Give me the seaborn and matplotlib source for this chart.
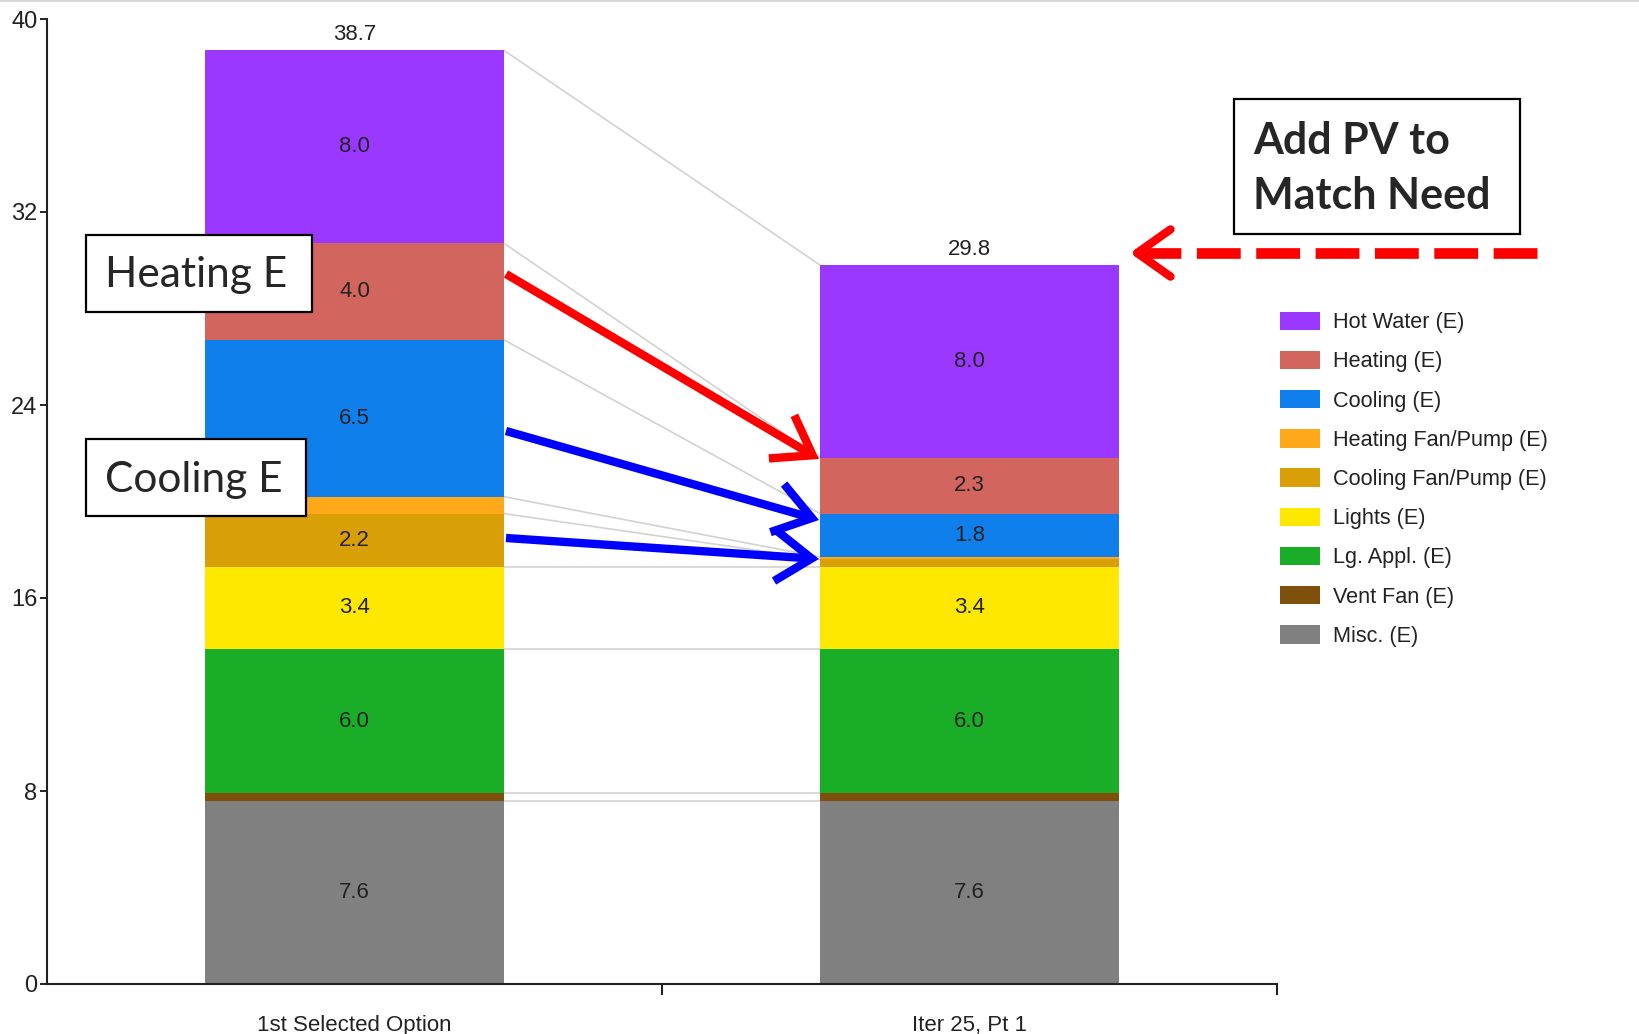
import numpy as np
import matplotlib
matplotlib.use("Agg")
import matplotlib.pyplot as plt
import seaborn as sns
from matplotlib.patches import FancyArrowPatch, Rectangle, Patch
from matplotlib.lines import Line2D

# ---------------- data ----------------
categories = ["1st Selected Option", "Iter 25, Pt 1"]
end_uses = ["Misc. (E)", "Vent Fan (E)", "Lg. Appl. (E)", "Lights (E)",
            "Cooling Fan/Pump (E)", "Heating Fan/Pump (E)", "Cooling (E)",
            "Heating (E)", "Hot Water (E)"]          # bottom -> top
misc = [7.6, 7.6]
vent_fan = [0.3, 0.3]
lg_appl = [6.0, 6.0]
lights = [3.4, 3.4]
cooling_fan = [2.2, 0.3]
heating_fan = [0.7, 0.1]
cooling = [6.5, 1.8]
heating = [4.0, 2.3]
hot_water = [8.0, 8.0]
colors = ["#808080", "#7f500c", "#1aae28", "#ffe800", "#d8a006",
          "#ffa81a", "#0f7feb", "#d3655f", "#9b38ff"]
yticks = [0, 8, 16, 24, 32, 40]

values = np.array([misc, vent_fan, lg_appl, lights, cooling_fan,
                   heating_fan, cooling, heating, hot_water])
cum = np.cumsum(values, axis=0)
bottoms = cum - values
totals = cum[-1]

# ---------------- figure ----------------
sns.set_style("white")
NARROW = ["Liberation Sans Narrow", "Liberation Sans", "DejaVu Sans"]
plt.rcParams["font.family"] = NARROW

W, H = 1639, 1034
fig = plt.figure(figsize=(W / 100, H / 100), dpi=100)
ax = fig.add_axes([47 / W, (H - 984) / H, (1277 - 47) / W, (984 - 19) / H])

BW = 0.486
# draw cumulative bars from top layer downward (each covers the one below)
for i in range(len(end_uses) - 1, -1, -1):
    sns.barplot(x=categories, y=cum[i], order=categories, color=colors[i],
                saturation=1, width=BW, linewidth=0, ax=ax, zorder=2)

# connector lines between bar boundaries
for k in range(len(end_uses)):
    ax.plot([BW / 2, 1 - BW / 2], [cum[k, 0], cum[k, 1]],
            color="#d2d2d2", lw=1.2, zorder=1)

# segment value labels
for i in range(len(end_uses)):
    for j in range(len(categories)):
        v = values[i, j]
        if v >= 1.0:
            ax.text(j, bottoms[i, j] + v / 2, f"{v:.1f}", ha="center",
                    va="center", fontsize=16, color="#222222", zorder=5)
for j in range(len(categories)):
    ax.annotate(f"{totals[j]:.1f}", (j, totals[j]), xytext=(0, 4),
                textcoords="offset points", ha="center", va="bottom",
                fontsize=16, color="#222222")

ax.set_xlim(-0.5, 1.5)
ax.set_ylim(0, 40)
ax.set_yticks(yticks)
ax.set_yticklabels([str(t) for t in yticks], fontsize=17, color="#222222")
ax.set_xticks([0, 1])
ax.set_xticklabels(categories, fontsize=16, color="#222222")
ax.set_xticks([0.5, 1.5], minor=True)
ax.tick_params(axis="x", which="major", length=0, pad=22)
ax.tick_params(axis="x", which="minor", bottom=True, length=8, width=1.5,
               color="#222222", direction="out")
ax.tick_params(axis="y", length=5, width=1.4, color="#222222", pad=2, left=True)
ax.set_xlabel("")
ax.set_ylabel("")
sns.despine(ax=ax)
for s in ["left", "bottom"]:
    ax.spines[s].set_linewidth(1.5)
    ax.spines[s].set_color("#222222")

# legend
handles = [Patch(facecolor=colors[i], edgecolor="none", label=end_uses[i])
           for i in range(len(end_uses) - 1, -1, -1)]
fig.legend(handles=handles, loc="upper left",
           bbox_to_anchor=(1260 / W, (H - 292) / H), frameon=False,
           fontsize=15.6, handlelength=1.85, handleheight=0.93,
           labelspacing=0.81, handletextpad=0.62, labelcolor="#222222")

# ---------------- annotations (figure pixel coordinates) ----------------
def fx(x):
    return x / W

def fy(y):
    return (H - y) / H

def box(x0, y0, x1, y1):
    fig.patches.append(Rectangle((fx(x0), fy(y1)), fx(x1) - fx(x0),
                                 fy(y0) - fy(y1), transform=fig.transFigure,
                                 facecolor="white", edgecolor="black",
                                 lw=1.6, zorder=10))

CAL = ["Lato", "DejaVu Sans"]
box(86, 235, 312, 312)
fig.text(fx(105), fy(275), "Heating E", family=CAL, fontsize=30.5,
         ha="left", va="center", zorder=11)
box(86, 439, 306, 516)
fig.text(fx(105), fy(480), "Cooling E", family=CAL, fontsize=30.5,
         ha="left", va="center", zorder=11)
box(1234, 99, 1520, 234)
fig.text(fx(1253), fy(141), "Add PV to", family=CAL, fontsize=31,
         fontweight="bold", ha="left", va="center", zorder=11)
fig.text(fx(1253), fy(196), "Match Need", family=CAL, fontsize=31,
         fontweight="bold", ha="left", va="center", zorder=11)

def arrow(p0, p1, color):
    a = FancyArrowPatch((fx(p0[0]), fy(p0[1])), (fx(p1[0]), fy(p1[1])),
                        transform=fig.transFigure,
                        arrowstyle="->,head_length=1.3,head_width=0.9",
                        mutation_scale=20, color=color, lw=6,
                        shrinkA=0, shrinkB=0,
                        capstyle="butt", joinstyle="miter", zorder=12)
    fig.patches.append(a)

arrow((506, 274), (819, 459), "#ff0000")
arrow((506, 431), (819, 520), "#0000ff")
arrow((506, 538), (819, 559), "#0000ff")

# dashed red arrow pointing to total
fig.lines.append(Line2D([fx(1537), fx(1140)], [fy(253), fy(253)],
                        transform=fig.transFigure, color="#ff0000", lw=7.7,
                        dashes=(4.1, 1.45), solid_capstyle="butt",
                        dash_capstyle="butt", zorder=12))
fig.patches.append(FancyArrowPatch((fx(1165), fy(253)), (fx(1130), fy(253)),
                                   transform=fig.transFigure,
                                   arrowstyle="->,head_length=1.2,head_width=0.85",
                                   mutation_scale=20, color="#ff0000", lw=6,
                                   shrinkA=0, shrinkB=0, zorder=12))

# faint top border
fig.lines.append(Line2D([0, 1], [fy(1), fy(1)], transform=fig.transFigure,
                        color="#d9d9d9", lw=1.5))

fig.savefig("out.png", dpi=100)
